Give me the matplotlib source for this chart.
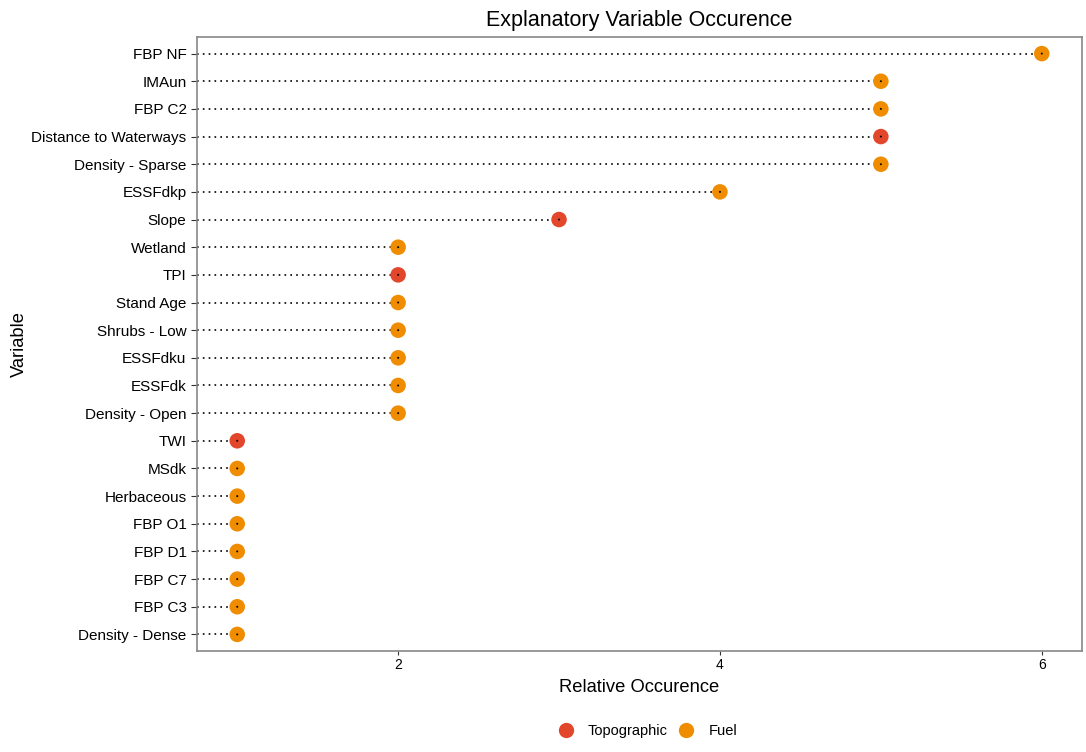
import matplotlib.pyplot as plt
from matplotlib.lines import Line2D

plt.rcParams['font.family'] = ['Liberation Sans', 'DejaVu Sans']

# variables from top to bottom
variables = ['FBP NF', 'IMAun', 'FBP C2', 'Distance to Waterways', 'Density - Sparse',
             'ESSFdkp', 'Slope', 'Wetland', 'TPI', 'Stand Age', 'Shrubs - Low',
             'ESSFdku', 'ESSFdk', 'Density - Open', 'TWI', 'MSdk', 'Herbaceous',
             'FBP O1', 'FBP D1', 'FBP C7', 'FBP C3', 'Density - Dense']
occurence = [6, 5, 5, 5, 5, 4, 3, 2, 2, 2, 2, 2, 2, 2, 1, 1, 1, 1, 1, 1, 1, 1]
groups = ['Fuel', 'Fuel', 'Fuel', 'Topographic', 'Fuel', 'Fuel', 'Topographic',
          'Fuel', 'Topographic', 'Fuel', 'Fuel', 'Fuel', 'Fuel', 'Fuel',
          'Topographic', 'Fuel', 'Fuel', 'Fuel', 'Fuel', 'Fuel', 'Fuel', 'Fuel']

colors = {'Topographic': '#E2462B', 'Fuel': '#EF8C00'}

fig = plt.figure(figsize=(10.86, 7.52), dpi=100)
ax = fig.add_axes([197 / 1086, 1 - 651 / 752, (1082 - 197) / 1086, (651 - 37) / 752])

n = len(variables)
ypos = list(range(n - 1, -1, -1))
xmin = 0.75

for y, v, g in zip(ypos, occurence, groups):
    ax.plot([xmin, v], [y, y], color='black', linestyle=(0, (1, 2.5)), linewidth=1.2, zorder=2)
    ax.scatter(v, y, s=125, color=colors[g], zorder=3, edgecolors='none')
    ax.scatter(v, y, s=2, color='black', zorder=4, edgecolors='none')

ax.set_xlim(0.75, 6.25)
ax.set_ylim(-0.6, n - 1 + 0.6)
ax.set_yticks(ypos)
ax.set_yticklabels(variables, fontsize=11, color='black')
ax.set_xticks([2, 4, 6])
ax.tick_params(axis='x', labelsize=10, colors='#333333', labelcolor='black', length=3, width=0.8, pad=2)
ax.tick_params(axis='y', length=4, width=0.8, colors='#333333', labelcolor='black')
for s in ax.spines.values():
    s.set_color('#888888')
    s.set_linewidth(1.2)

ax.set_xlabel('Relative Occurence', fontsize=13.2, labelpad=5)
ax.set_ylabel('Variable', fontsize=13.2)
ax.yaxis.set_label_coords((28 - 197) / 885, 0.5)
ax.set_title('Explanatory Variable Occurence', fontsize=15.5, pad=8)

handles = [Line2D([], [], marker='o', linestyle='none', markersize=11,
                  markerfacecolor=colors[k], markeredgecolor='none', label=k)
           for k in ['Topographic', 'Fuel']]
fig.legend(handles=handles, loc='center', bbox_to_anchor=(644 / 1086, 1 - 731 / 752),
           ncol=2, frameon=False, fontsize=10.5, handletextpad=0.5, columnspacing=0.3)

fig.savefig('out.png', dpi=100)
